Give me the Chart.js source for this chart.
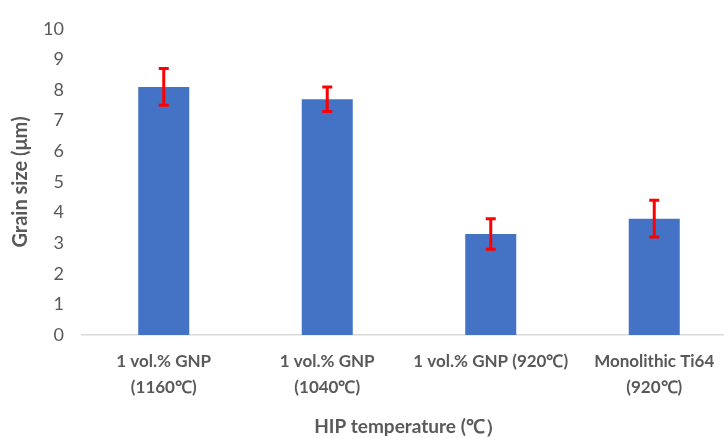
<!DOCTYPE html>
<html>
<head>
<meta charset="utf-8">
<script src="https://cdn.jsdelivr.net/npm/chart.js@4.4.1/dist/chart.umd.min.js"></script>
<style>
  html, body { margin: 0; padding: 0; background: #fff; overflow: hidden; }
  #wrap { width: 724px; height: 438px; overflow: hidden; }
</style>
</head>
<body>
<div id="wrap"><canvas id="myChart" width="740" height="438"></canvas></div>
<script>
// data
const categories = [
  ["1 vol.% GNP", "(1160℃)"],
  ["1 vol.% GNP", "(1040℃)"],
  "1 vol.% GNP (920℃)",
  ["Monolithic Ti64", "(920℃)"]
];
const grainSize = [8.1, 7.7, 3.3, 3.8];
const grainErr = [0.6, 0.4, 0.5, 0.6];
const yTicks = [0, 1, 2, 3, 4, 5, 6, 7, 8, 9, 10];
const xTitle = "HIP temperature (℃）";
const yTitle = "Grain size (μm)";

const grey = "#595959";
const fontFamily = "Lato, 'Open Sans', sans-serif";

// red error bars, drawn through the y scale
const errorBars = {
  id: "errorBars",
  afterDatasetsDraw(chart) {
    const ctx = chart.ctx;
    const meta = chart.getDatasetMeta(0);
    const y = chart.scales.y;
    ctx.save();
    ctx.strokeStyle = "#FF0000";
    ctx.lineWidth = 3;
    meta.data.forEach((bar, i) => {
      const top = y.getPixelForValue(grainSize[i] + grainErr[i]);
      const bot = y.getPixelForValue(grainSize[i] - grainErr[i]);
      const x = bar.x;
      ctx.beginPath();
      ctx.moveTo(x, top);
      ctx.lineTo(x, bot);
      ctx.moveTo(x - 5, top);
      ctx.lineTo(x + 5, top);
      ctx.moveTo(x - 5, bot);
      ctx.lineTo(x + 5, bot);
      ctx.stroke();
    });
    ctx.restore();
  }
};

new Chart(document.getElementById("myChart"), {
  type: "bar",
  data: {
    labels: categories,
    datasets: [
      {
        data: grainSize,
        backgroundColor: "#4472C4",
        borderWidth: 0,
        categoryPercentage: 1,
        barPercentage: 0.312
      }
    ]
  },
  options: {
    responsive: false,
    animation: false,
    layout: { padding: { top: 20, right: 4, left: 0, bottom: 0 } },
    plugins: {
      legend: { display: false },
      tooltip: { enabled: false }
    },
    scales: {
      x: {
        grid: { display: false, drawTicks: false },
        border: { color: "#D9D9D9", width: 1.5 },
        ticks: {
          color: grey,
          padding: 14,
          maxRotation: 0,
          autoSkip: false,
          font: { family: fontFamily, size: 17, weight: "bold", lineHeight: 1.5 }
        },
        title: {
          display: true,
          text: xTitle,
          color: grey,
          padding: { top: 0, bottom: 0 },
          font: { family: fontFamily, size: 19, weight: "bold" }
        },
        afterFit: (s) => { s.height = 103; }
      },
      y: {
        min: 0,
        max: 10,
        afterBuildTicks: (s) => { s.ticks = yTicks.map((v) => ({ value: v })); },
        grid: { display: false, drawTicks: false },
        border: { display: false },
        ticks: {
          color: grey,
          padding: 18,
          font: { family: fontFamily, size: 18 }
        },
        title: {
          display: true,
          text: yTitle,
          color: grey,
          padding: { top: 9, bottom: 0 },
          font: { family: fontFamily, size: 20, weight: "bold" }
        },
        afterFit: (s) => { s.width = 82; }
      }
    }
  },
  plugins: [errorBars]
});
</script>
</body>
</html>
